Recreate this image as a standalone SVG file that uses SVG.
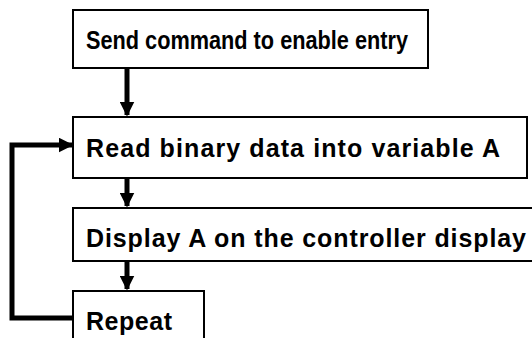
<svg xmlns="http://www.w3.org/2000/svg" width="532" height="338" viewBox="0 0 532 338">
<defs>
<style>
.box{fill:#fff;stroke:#000;stroke-width:2}
.t{font-family:"Liberation Sans",Arial,Helvetica,sans-serif;font-weight:bold;font-size:25px;fill:#000}
.c{fill:none;stroke:#000;stroke-width:5}
</style>
<marker id="ah" viewBox="0 0 10 10" refX="9" refY="5" markerWidth="3" markerHeight="3" orient="auto" markerUnits="strokeWidth">
<path d="M0,0 L10,5 L0,10 z" fill="#000"/>
</marker>
</defs>
<rect width="532" height="338" fill="#fff"/>
<g id="connectors">
<line class="c" x1="127" y1="68" x2="127" y2="115" marker-end="url(#ah)"/>
<line class="c" x1="127" y1="178" x2="127" y2="206" marker-end="url(#ah)"/>
<line class="c" x1="127" y1="261" x2="127" y2="289" marker-end="url(#ah)"/>
<polyline class="c" points="74,318 12,318 12,145 72,145" marker-end="url(#ah)"/>
</g>
<g id="n1">
<rect class="box" x="73" y="10" width="355" height="58"/>
<text class="t" x="86" y="49" textLength="322" lengthAdjust="spacingAndGlyphs">Send command to enable entry</text>
</g>
<g id="n2">
<rect class="box" x="73" y="117" width="454" height="61"/>
<text class="t" x="86" y="157" textLength="414" lengthAdjust="spacing">Read binary data into variable A</text>
</g>
<g id="n3">
<rect class="box" x="73" y="208" width="480" height="53"/>
<text class="t" x="86" y="247" textLength="440" lengthAdjust="spacing">Display A on the controller display</text>
</g>
<g id="n4">
<rect class="box" x="73" y="291" width="131" height="60"/>
<text class="t" x="86" y="330" textLength="86" lengthAdjust="spacing">Repeat</text>
</g>
</svg>
